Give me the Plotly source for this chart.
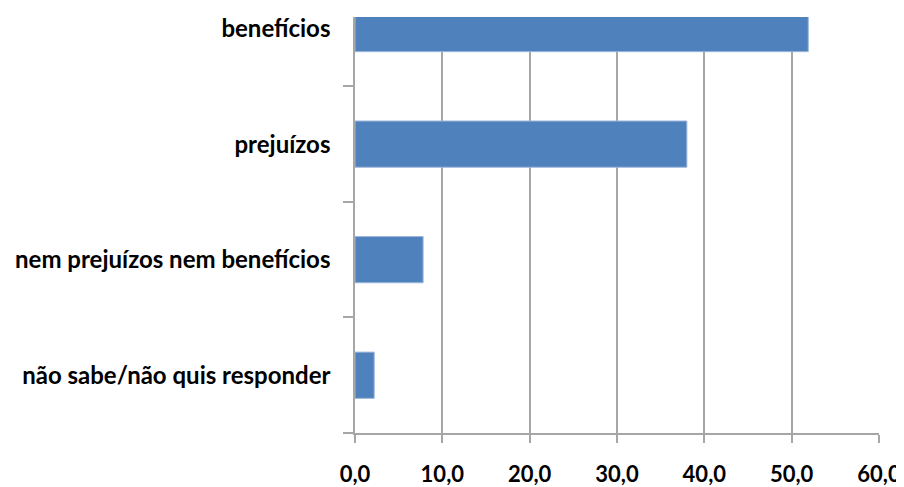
import plotly.graph_objects as go

categories = ["não sabe/não quis responder", "nem prejuízos nem benefícios", "prejuízos", "benefícios"]
values = [2.2, 7.8, 38.0, 51.9]
x_ticks = [0, 10, 20, 30, 40, 50, 60]
x_tick_labels = ["0,0", "10,0", "20,0", "30,0", "40,0", "50,0", "60,0"]

fig = go.Figure(go.Bar(
    y=categories, x=values, orientation="h",
    marker=dict(color="#4F81BD", line=dict(color="#9DB7DB", width=1)),
    width=0.4,
))

# the page body has an 8px margin, so the figure is sized to the remaining area
fig.update_layout(
    width=896, height=479,
    margin=dict(l=347, r=25, t=9, b=54, autoexpand=False),
    paper_bgcolor="white", plot_bgcolor="white",
    showlegend=False,
    font=dict(family="Lato", color="black"),
)
fig.update_xaxes(
    range=[0, 60], tickvals=x_ticks, ticktext=x_tick_labels,
    automargin=False,
    showgrid=True, gridcolor="#A6A6A6", gridwidth=1.5,
    showline=True, linecolor="#A6A6A6", linewidth=1.5,
    ticks="outside", ticklen=8, tickcolor="#A6A6A6", tickwidth=1.5,
    tickfont=dict(size=22, weight="bold", family="Lato", color="black"),
    ticklabelstandoff=13,
    zeroline=False,
)
fig.update_yaxes(
    type="category", range=[-0.5, 3.1],
    automargin=False,
    showline=True, linecolor="#A6A6A6", linewidth=1.5,
    ticks="outside", tickson="boundaries", ticklen=10, tickcolor="#A6A6A6", tickwidth=1.5,
    tickfont=dict(size=24, weight="bold", family="Lato", color="black"),
    ticklabelstandoff=18,
    showgrid=False,
)

fig.write_html("out.html")
